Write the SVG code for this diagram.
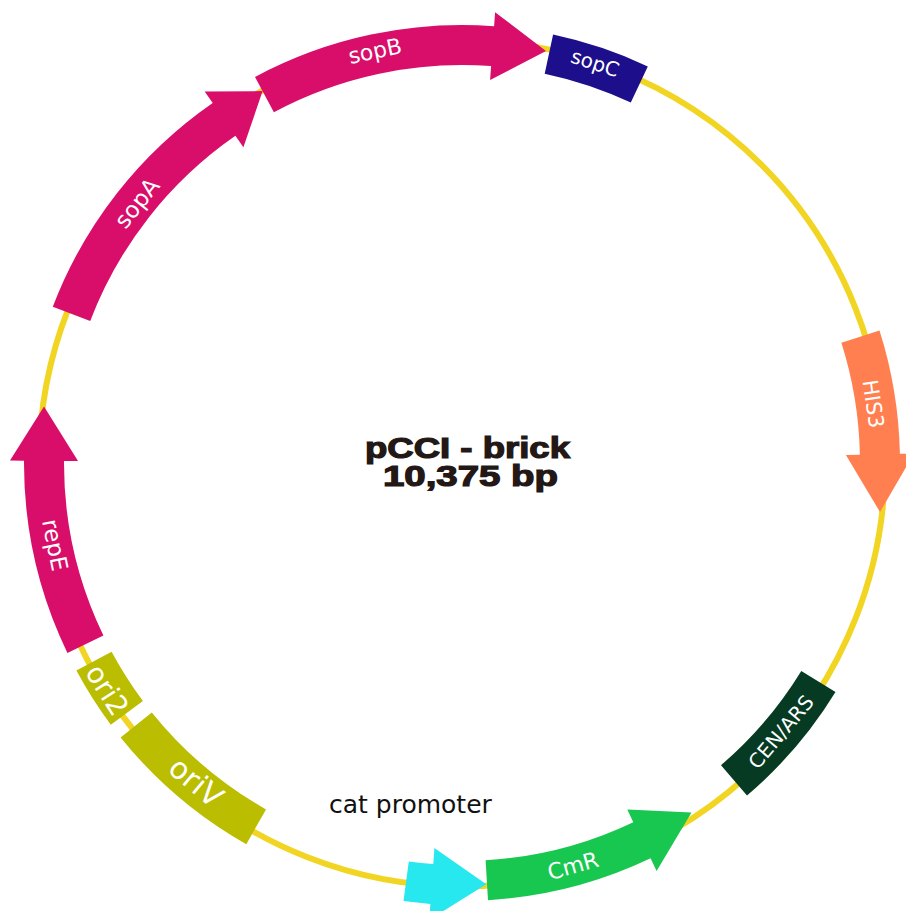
<svg xmlns="http://www.w3.org/2000/svg" width="906" height="911" viewBox="0 0 906 911">
<style>
.lbl{font-family:"DejaVu Sans","Verdana",sans-serif;fill:#ffffff;text-anchor:middle;dominant-baseline:central}
.mag{fill:#D90D6A}
.ori{fill:#BABD00}
.title{font-family:"Liberation Sans","Arial",sans-serif;font-weight:bold;fill:#231815;stroke:#231815;stroke-width:1.2;font-size:29px}
</style>
<rect x="0" y="0" width="906" height="911" fill="#ffffff"/>
<g id="backbone">
<circle cx="462" cy="463.5" r="423" fill="none" stroke="#F2D522" stroke-width="6"/>
</g>
<g id="sopB">
<path class="mag" d="M 255.0,77.0 A 438 438 0 0 1 494.1,26.2 L 495.1,12.2 L 546,51 L 490.1,80.0 L 491.1,66.1 A 398 398 0 0 0 273.9,112.2 Z"/>
<text class="lbl" font-size="22" transform="translate(375,51) rotate(-11.9)">sopB</text>
</g>
<g id="sopA">
<path class="mag" d="M 52.8,306.7 A 438 438 0 0 1 212.7,102.9 L 204.7,91.4 L 262.6,91.1 L 243.4,147.3 L 235.4,135.8 A 398 398 0 0 0 90.2,321.0 Z"/>
<text class="lbl" font-size="23" transform="translate(137,203) rotate(-51.3)">sopA</text>
</g>
<g id="sopC">
<path fill="#1D0F8B" d="M 553.1,34.6 A 438 438 0 0 1 647.8,66.4 L 630.8,102.6 A 398 398 0 0 0 544.7,73.7 Z"/>
<text class="lbl" font-size="20" transform="translate(595,63) rotate(18.3)">sopC</text>
</g>
<g id="HIS3">
<path fill="#FF7F50" d="M 879.5,330.6 A 438 438 0 0 1 899.9,453.8 L 913.9,453.5 L 880,512 L 845.9,455.0 L 859.9,454.7 A 398 398 0 0 0 841.4,342.7 Z"/>
<text class="lbl" font-size="21" transform="translate(873,404) rotate(81.7)">HIS3</text>
</g>
<g id="CEN-ARS">
<path fill="#063A23" d="M 801.3,671.0 L 835.5,691.9 A 438 438 0 0 1 747.0,795.6 L 721.0,765.2 A 398 398 0 0 0 801.3,671.0 Z"/>
<text class="lbl" font-size="20" transform="translate(781,732) rotate(-49.9)">CEN/ARS</text>
</g>
<g id="CmR">
<path fill="#18C74F" d="M 488.0,900.2 A 438 438 0 0 0 650.6,858.3 L 656.6,871.0 L 691.5,812.4 L 627.3,809.6 L 633.3,822.2 A 398 398 0 0 1 485.6,860.3 Z"/>
<text class="lbl" font-size="22" transform="translate(573,866) rotate(-15.4)">CmR</text>
</g>
<g id="cat-promoter">
<path fill="#27E7EF" d="M 403.5,901.1 A 442 442 0 0 0 430.4,903.9 L 429.3,919.8 L 486.3,884.3 L 434.4,848.0 L 433.3,864.0 A 402 402 0 0 1 408.8,861.5 Z"/>
<text x="329" y="813" font-family="DejaVu Sans, Verdana, sans-serif" font-size="25" fill="#111111">cat promoter</text>
</g>
<g id="oriV">
<path class="ori" d="M 120.6,737.4 L 151.8,712.4 A 398 398 0 0 0 266.0,809.4 L 246.3,844.2 A 438 438 0 0 1 120.6,737.4 Z"/>
<text class="lbl" font-size="30" transform="translate(196,782) rotate(39.8)">oriV</text>
</g>
<g id="ori2">
<path class="ori" d="M 76.4,670.6 L 111.6,651.7 A 398 398 0 0 0 142.9,700.9 L 110.8,724.8 A 438 438 0 0 1 76.4,670.6 Z"/>
<text class="lbl" font-size="28" transform="translate(107,690) rotate(57.4)">ori2</text>
</g>
<g id="repE">
<path class="mag" d="M 67.4,652.9 A 438 438 0 0 1 24.0,460.7 L 10.0,460.6 L 44,406.5 L 78.0,461.0 L 64.0,460.9 A 398 398 0 0 0 103.4,635.6 Z"/>
<text class="lbl" font-size="23" transform="translate(55,545) rotate(78.6)">repE</text>
</g>
<g id="title">
<text class="title" x="365" y="458" textLength="205" lengthAdjust="spacingAndGlyphs">pCCI - brick</text>
<text class="title" x="383" y="486" textLength="175" lengthAdjust="spacingAndGlyphs">10,375 bp</text>
</g>
</svg>
